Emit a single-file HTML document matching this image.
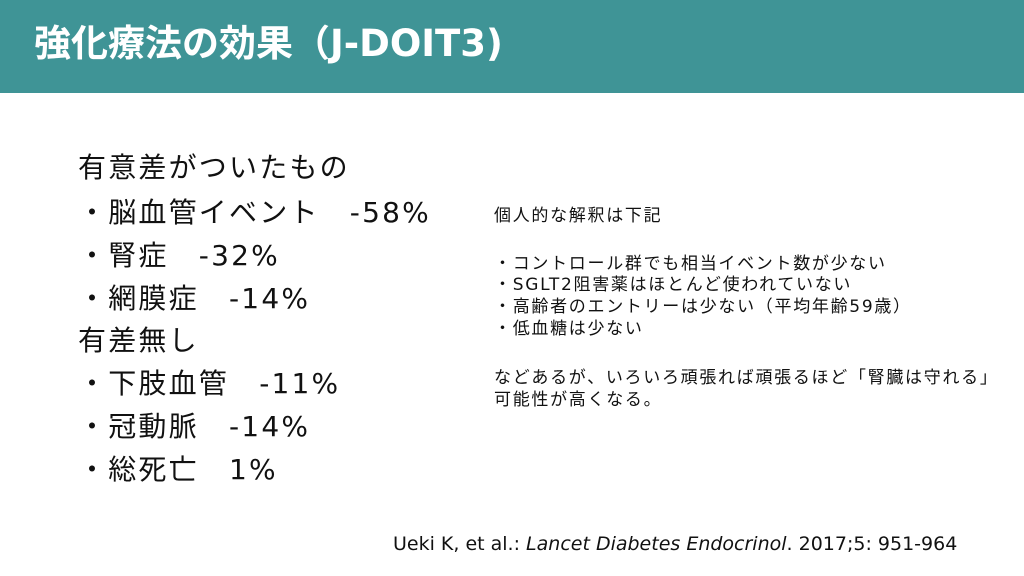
<!DOCTYPE html>
<html><head><meta charset="utf-8"><style>
body{margin:0;width:1024px;height:576px;background:#fff;position:relative;overflow:hidden;font-family:"DejaVu Sans","Noto Sans CJK JP",sans-serif;color:#111}
.hd{position:absolute;left:0;top:0;width:1024px;height:93px;background:#3f9496}
.hd div{position:absolute;left:34px;top:18px;font-size:37px;font-weight:bold;color:#fff;line-height:52px;white-space:nowrap}
.l{position:absolute;left:78px;font-size:28px;letter-spacing:2.2px;line-height:34px;white-space:nowrap}
.r{position:absolute;left:494px;font-size:17px;letter-spacing:1.7px;line-height:20px;white-space:nowrap}
.c{position:absolute;left:393px;top:532px;font-size:19px;line-height:24px;white-space:nowrap}
</style></head><body>
<div class="hd"><div>強化療法の効果（J-DOIT3)</div></div>
<div class="l" style="top:151px">有意差がついたもの</div>
<div class="l" style="top:196px">・脳血管イベント　-58%</div>
<div class="l" style="top:239px">・腎症　-32%</div>
<div class="l" style="top:282px">・網膜症　-14%</div>
<div class="l" style="top:324px">有差無し</div>
<div class="l" style="top:367px">・下肢血管　-11%</div>
<div class="l" style="top:410px">・冠動脈　-14%</div>
<div class="l" style="top:453px">・総死亡　1%</div>
<div class="r" style="top:206px">個人的な解釈は下記</div>
<div class="r" style="top:254px">・コントロール群でも相当イベント数が少ない</div>
<div class="r" style="top:275px">・SGLT2阻害薬はほとんど使われていない</div>
<div class="r" style="top:297px">・高齢者のエントリーは少ない（平均年齢59歳）</div>
<div class="r" style="top:319px">・低血糖は少ない</div>
<div class="r" style="top:368px">などあるが、いろいろ頑張れば頑張るほど「腎臓は守れる」</div>
<div class="r" style="top:390px">可能性が高くなる。</div>
<div class="c">Ueki K, et al.: <i>Lancet Diabetes Endocrinol</i>. 2017;5: 951-964</div>
</body></html>
